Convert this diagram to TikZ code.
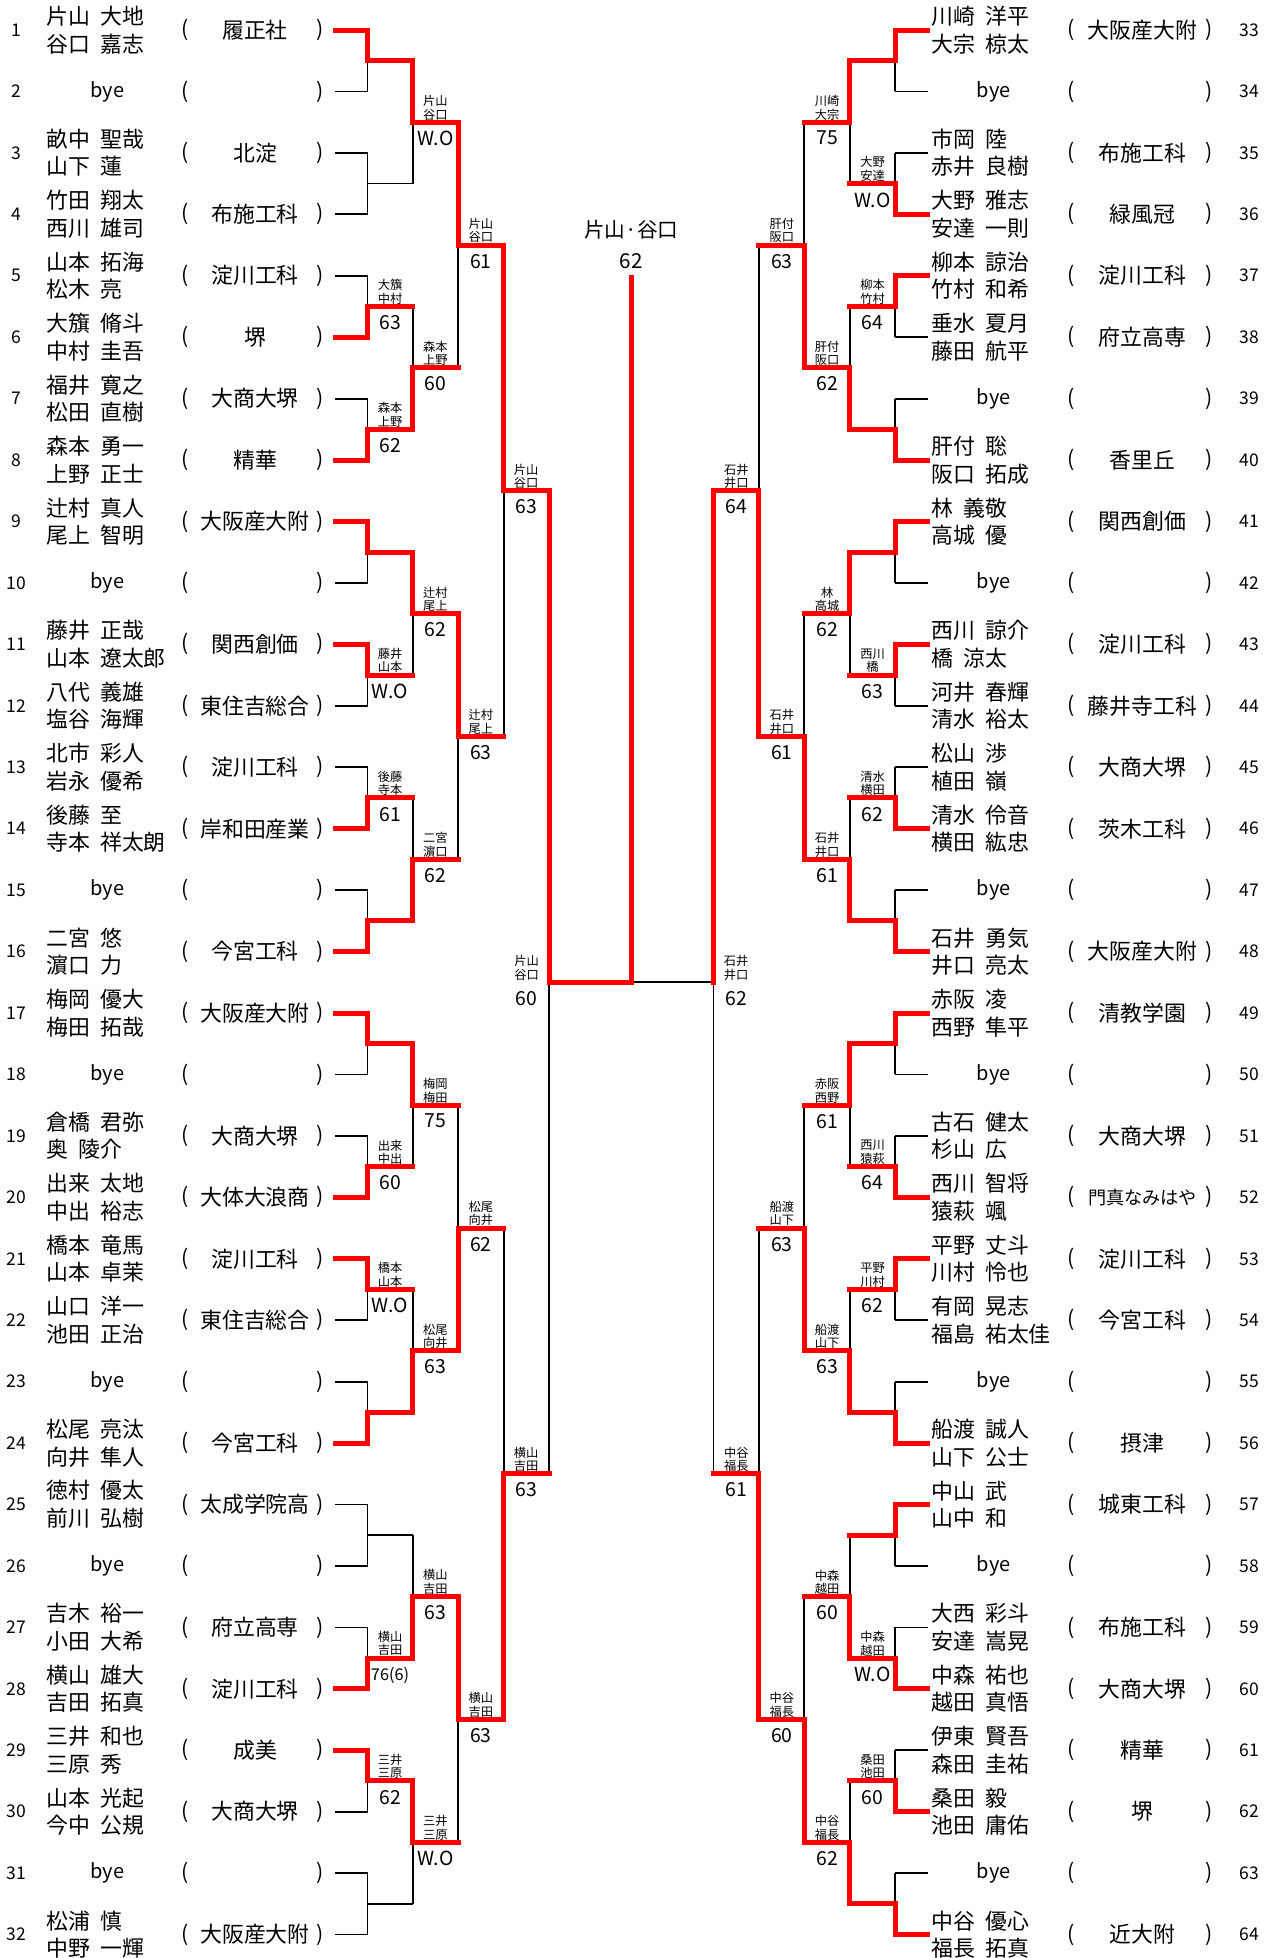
\documentclass[tikz,border=0pt]{standalone}
\usepackage{fontspec}
\setmainfont{Noto Sans CJK JP}[WordSpace=2]
\definecolor{winRed}{RGB}{255,0,0}
\pgfdeclarelayer{back}
\pgfsetlayers{back,main}
\tikzset{every picture/.style={semithick}}
\tikzset{
  win/.style={draw=winRed, line width=4pt, line cap=rect},
  lose/.style={draw=black, line width=1.4pt},
  pair/.style={font=\fontsize{17.5}{22}\selectfont, align=left, inner sep=0pt, anchor=west},
  school/.style={font=\fontsize{17.5}{21}\selectfont, inner sep=0pt},
  num/.style={font=\fontsize{14}{16}\selectfont, inner sep=0pt},
  byeword/.style={font=\fontsize{16}{18}\selectfont, inner sep=0pt},
  paren/.style={font=\fontsize{17}{19}\selectfont, inner sep=0pt},
  who/.style={font=\fontsize{9.8}{10.8}\selectfont, align=center, inner sep=0pt, anchor=south},
  res/.style={font=\fontsize{15.5}{17}\selectfont, inner sep=0pt, anchor=north},
  champ/.style={font=\fontsize{16.5}{25}\selectfont, align=center, inner sep=0pt, outer sep=7pt}
}
\newcommand\smallsch{\fontsize{14.5}{17}\selectfont}
\newcommand\smallres{\fontsize{13}{15}\selectfont}
% one piece of the bracket: #1 = 1 for the winner (red), #2 = path
\newcommand\brline[2]{%
  \ifnum#1=1 \draw[win] #2;\else\begin{pgfonlayer}{back}\draw[lose] #2;\end{pgfonlayer}\fi}
% one round: #1 side, #2 round, #3 winner per match (0 none, 1 upper, 2 lower)
\newcommand\bround[3]{%
  \foreach \w [count=\mm] in {#3} {
    \pgfmathtruncatemacro\rPrev{#2-1}
    \pgfmathtruncatemacro\rNext{#2+1}
    \pgfmathtruncatemacro\mNext{ceil(\mm/2)}
    \foreach \pos in {1,2} {
      \pgfmathtruncatemacro\kid{2*\mm-2+\pos}
      \pgfmathtruncatemacro\isWin{\w==\pos}
      \ifnum#2=1 \brline{\isWin}{(#1\rPrev m\kid) -- (#1\rPrev m\kid -| #1#2m\mm)}\fi
      \brline{\isWin}{(#1\rPrev m\kid -| #1#2m\mm) -- (#1#2m\mm)}
    }
    \ifnum#2<5
      \pgfmathtruncatemacro\isWin{\w>0}
      \brline{\isWin}{(#1#2m\mm) -- (#1#2m\mm -| #1\rNext m\mNext)}
    \fi
  }}

\begin{document}
\begin{tikzpicture}[x=1pt,y=-1pt]
\useasboundingbox (0,0) rectangle (1016.8,1566.4);

% bracket points, round 0 = entry lines
\foreach \rr in {0,...,5} {
  \pgfmathtruncatemacro\nn{2^(5-\rr)}
  \foreach \mm in {1,...,\nn} {
    \pgfmathsetmacro\yy{24+((\mm-1)*2^\rr+(2^\rr-1)/2)*49.15}
    \pgfmathsetmacro\xa{\rr==0 ? 268 : 294+(\rr-1)*36.3}
    \pgfmathsetmacro\xb{1010-\xa}
    \coordinate (L\rr m\mm) at (\xa,\yy);
    \coordinate (R\rr m\mm) at (\xb,\yy);
  }
}

% rows, left
\foreach \i in {1,...,32} {
  \pgfmathsetmacro\yy{24+(\i-1)*49.15}
  \node[num] (no\i) at (13.3,\yy) {\i};
  \node[paren] (po\i) at (148,\yy) {(};
  \node[paren] (pc\i) at (256,\yy) {)};
}
\foreach \i/\pa/\pb/\sch in {1/片山 大地/谷口 嘉志/履正社, 3/畝中 聖哉/山下 蓮/北淀,
    4/竹田 翔太/西川 雄司/布施工科, 5/山本 拓海/松木 亮/淀川工科, 6/大籏 脩斗/中村 圭吾/堺,
    7/福井 寛之/松田 直樹/大商大堺, 8/森本 勇一/上野 正士/精華, 9/辻村 真人/尾上 智明/大阪産大附,
    11/藤井 正哉/山本 遼太郎/関西創価, 12/八代 義雄/塩谷 海輝/東住吉総合,
    13/北市 彩人/岩永 優希/淀川工科, 14/後藤 至/寺本 祥太朗/岸和田産業, 16/二宮 悠/濵口 力/今宮工科,
    17/梅岡 優大/梅田 拓哉/大阪産大附, 19/倉橋 君弥/奥 陵介/大商大堺, 20/出来 太地/中出 裕志/大体大浪商,
    21/橋本 竜馬/山本 卓茉/淀川工科, 22/山口 洋一/池田 正治/東住吉総合, 24/松尾 亮汰/向井 隼人/今宮工科,
    25/徳村 優太/前川 弘樹/太成学院高, 27/吉木 裕一/小田 大希/府立高専, 28/横山 雄大/吉田 拓真/淀川工科,
    29/三井 和也/三原 秀/成美, 30/山本 光起/今中 公規/大商大堺, 32/松浦 慎/中野 一輝/大阪産大附} {
  \pgfmathsetmacro\yy{24+(\i-1)*49.15}
  \node[pair] (nm\i) at (37,\yy) {\pa\\\pb};
  \node[school] (sc\i) at (204,\yy) {\sch};
}
\foreach \i in {2,10,15,18,23,26,31}
  \node[byeword] (nm\i) at (86,{24+(\i-1)*49.15}) {bye};

% rows, right
\foreach \i in {33,...,64} {
  \pgfmathsetmacro\yy{24+(\i-33)*49.15}
  \node[num] (no\i) at (999.5,\yy) {\i};
  \node[paren] (po\i) at (857,\yy) {(};
  \node[paren] (pc\i) at (967,\yy) {)};
}
\foreach \i/\pa/\pb/\sch in {33/川崎 洋平/大宗 椋太/大阪産大附, 35/市岡 陸/赤井 良樹/布施工科,
    36/大野 雅志/安達 一則/緑風冠, 37/柳本 諒治/竹村 和希/淀川工科, 38/垂水 夏月/藤田 航平/府立高専,
    40/肝付 聡/阪口 拓成/香里丘, 41/林 義敬/高城 優/関西創価, 43/西川 諒介/橋 涼太/淀川工科,
    44/河井 春輝/清水 裕太/藤井寺工科, 45/松山 渉/植田 嶺/大商大堺, 46/清水 伶音/横田 紘忠/茨木工科,
    48/石井 勇気/井口 亮太/大阪産大附, 49/赤阪 凌/西野 隼平/清教学園, 51/古石 健太/杉山 広/大商大堺,
    52/西川 智将/猿萩 颯/\smallsch 門真なみはや, 53/平野 丈斗/川村 怜也/淀川工科,
    54/有岡 晃志/福島 祐太佳/今宮工科, 56/船渡 誠人/山下 公士/摂津, 57/中山 武/山中 和/城東工科,
    59/大西 彩斗/安達 嵩晃/布施工科, 60/中森 祐也/越田 真悟/大商大堺, 61/伊東 賢吾/森田 圭祐/精華,
    62/桑田 毅/池田 庸佑/堺, 64/中谷 優心/福長 拓真/近大附} {
  \pgfmathsetmacro\yy{24+(\i-33)*49.15}
  \node[pair] (nm\i) at (745,\yy) {\pa\\\pb};
  \node[school] (sc\i) at (914,\yy) {\sch};
}
\foreach \i in {34,39,42,47,50,55,58,63}
  \node[byeword] (nm\i) at (795,{24+(\i-33)*49.15}) {bye};

% bracket lines
\bround{L}{1}{1,0,2,2,1,1,2,2,1,2,1,2,0,2,1,0}
\bround{L}{2}{1,2,1,2,1,2,2,1}
\bround{L}{3}{1,1,2,1}
\bround{L}{4}{1,2}
\bround{L}{5}{1}
\bround{R}{1}{1,2,1,2,1,1,2,2,1,2,1,2,1,2,2,2}
\bround{R}{2}{1,2,1,2,1,2,2,2}
\bround{R}{3}{2,2,2,2}
\bround{R}{4}{2,2}
\bround{R}{5}{1}

% final
\node[champ] (champ) at (505,195.5) {片山·谷口\\62};
\coordinate (F) at (champ |- L5m1);
\draw[win] (champ) -- (F);
\draw[win] (L5m1) -- (F);
\begin{pgfonlayer}{back}\draw[lose] (R5m1) -- (F);\end{pgfonlayer}

% match results
\foreach \jn/\dx/\na/\nb/\sc in {
    L1m3/18/大籏/中村/63, L1m4/18/森本/上野/62, L1m6/18/藤井/山本/W.O, L1m7/18/後藤/寺本/61,
    L1m10/18/出来/中出/60, L1m11/18/橋本/山本/W.O, L1m14/18/横山/吉田/\smallres 76(6), L1m15/18/三井/三原/62,
    L2m1/18/片山/谷口/W.O, L2m2/18/森本/上野/60, L2m3/18/辻村/尾上/62, L2m4/18/二宮/濵口/62,
    L2m5/18/梅岡/梅田/75, L2m6/18/松尾/向井/63, L2m7/18/横山/吉田/63, L2m8/18/三井/三原/W.O,
    L3m1/18/片山/谷口/61, L3m2/18/辻村/尾上/63, L3m3/18/松尾/向井/62, L3m4/18/横山/吉田/63,
    L4m1/18/片山/谷口/63, L4m2/18/横山/吉田/63, L5m1/-18/片山/谷口/60,
    R1m2/-18/大野/安達/W.O, R1m3/-18/柳本/竹村/64, R1m6/-18/西川/橋/63, R1m7/-18/清水/横田/62,
    R1m10/-18/西川/猿萩/64, R1m11/-18/平野/川村/62, R1m14/-18/中森/越田/W.O, R1m15/-18/桑田/池田/60,
    R2m1/-18/川崎/大宗/75, R2m2/-18/肝付/阪口/62, R2m3/-18/林/高城/62, R2m4/-18/石井/井口/61,
    R2m5/-18/赤阪/西野/61, R2m6/-18/船渡/山下/63, R2m7/-18/中森/越田/60, R2m8/-18/中谷/福長/62,
    R3m1/-18/肝付/阪口/63, R3m2/-18/石井/井口/61, R3m3/-18/船渡/山下/63, R3m4/-18/中谷/福長/60,
    R4m1/-18/石井/井口/64, R4m2/-18/中谷/福長/61, R5m1/18/石井/井口/62} {
  \node[who] (w\jn) at ([xshift=\dx, yshift=1.5]\jn) {\na\\\nb};
  \node[res] (s\jn) at ([xshift=\dx, yshift=-7]\jn) {\sc};
}
\end{tikzpicture}
\end{document}
